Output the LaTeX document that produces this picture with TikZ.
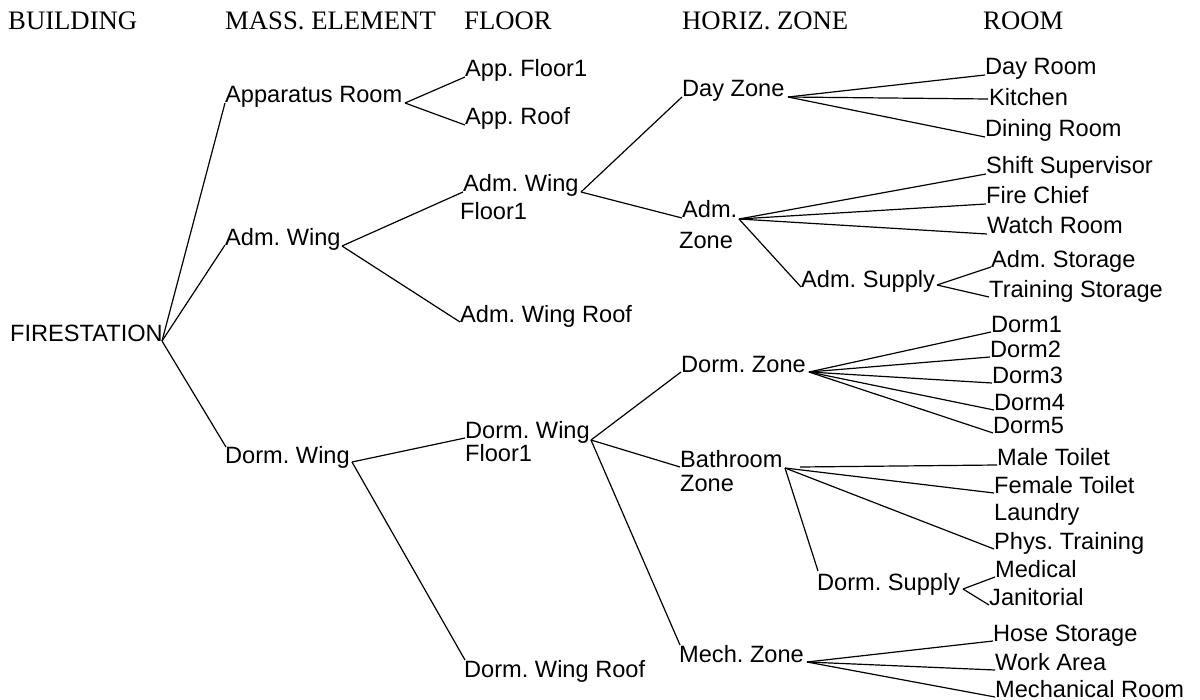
\documentclass[tikz,border=0pt]{standalone}
\usepackage{fontspec}
\setmainfont{Liberation Serif}
\newfontfamily\lblfamily{Liberation Sans}
\newcommand{\twoline}[3][0bp]{\begin{tabular}[t]{@{}l@{}}#2\\[#1]#3\end{tabular}}
\begin{document}
\begin{tikzpicture}[x=1bp,y=-1bp,
  hdr/.style={anchor=base west, inner sep=0pt, font=\frenchspacing\fontsize{26.7bp}{30bp}\selectfont},
  lbl/.style={anchor=base west, inner sep=0pt, font=\frenchspacing\lblfamily\fontsize{23.6bp}{28bp}\selectfont},
  con/.style={line width=1.2bp, draw=black},
]
\useasboundingbox (0,0) rectangle (1200,700);

% headers
\node[hdr] (h1) at (8,30) {BUILDING};
\node[hdr] (h2) at (225,30) {MASS. ELEMENT};
\node[hdr] (h3) at (464,30) {FLOOR};
\node[hdr] (h4) at (682,30) {HORIZ. ZONE};
\node[hdr] (h5) at (983,30) {ROOM};

% building / mass elements / floors
\node[lbl] (fs) at (10,341) {FIRESTATION};
\node[lbl] (app) at (225,103) {Apparatus Room};
\node[lbl] (admw) at (225,245) {Adm. Wing};
\node[lbl] (dormw) at (225,463) {Dorm. Wing};
\node[lbl] (appf) at (465,77) {App. Floor1};
\node[lbl] (appr) at (465,125) {App. Roof};
\node[lbl] (admf) at (463,192) {\twoline{Adm. Wing}{\hspace*{-3bp}Floor1}};
\node[lbl] (admr) at (460,322) {Adm. Wing Roof};
\node[lbl] (dormf) at (465,438) {\twoline[-4.5bp]{Dorm. Wing}{Floor1}};
\node[lbl] (dormr) at (464,677) {Dorm. Wing Roof};

% horizontal zones
\node[lbl] (dayz) at (682,97) {Day Zone};
\node[lbl] (admz) at (682,218) {\twoline[2bp]{Adm.}{\hspace*{-3bp}Zone}};
\node[lbl] (admsup) at (801,287) {Adm. Supply};
\node[lbl] (dormz) at (681,372) {Dorm. Zone};
\node[lbl] (bathz) at (680,467) {\twoline[-3.5bp]{Bathroom}{Zone}};
\node[lbl] (dormsup) at (817,590) {Dorm. Supply};
\node[lbl] (mechz) at (679,662) {Mech. Zone};

% rooms
\node[lbl] (dayroom) at (985,75) {Day Room};
\node[lbl] (kitchen) at (989,106) {Kitchen};
\node[lbl] (dining) at (985,137) {Dining Room};
\node[lbl] (shift) at (986,174) {Shift Supervisor};
\node[lbl] (chief) at (986,204) {Fire Chief};
\node[lbl] (watch) at (987,234) {Watch Room};
\node[lbl] (admstor) at (991,267) {Adm. Storage};
\node[lbl] (train) at (989,297) {Training Storage};
\node[lbl] (dorm1) at (991,332) {Dorm1};
\node[lbl] (dorm2) at (990,357) {Dorm2};
\node[lbl] (dorm3) at (992,383) {Dorm3};
\node[lbl] (dorm4) at (994,410) {Dorm4};
\node[lbl] (dorm5) at (993,433) {Dorm5};
\node[lbl] (male) at (997,465) {Male Toilet};
\node[lbl] (female) at (994,493) {Female Toilet};
\node[lbl] (laundry) at (994,520) {Laundry};
\node[lbl] (phys) at (994,549) {Phys. Training};
\node[lbl] (medical) at (995,577) {Medical};
\node[lbl] (jan) at (989,605) {Janitorial};
\node[lbl] (hose) at (993,641) {Hose Storage};
\node[lbl] (work) at (995,670) {Work Area};
\node[lbl] (mechroom) at (995,697) {Mechanical Room};

% junction points
\coordinate (fs-j) at (162,341);
\coordinate (app-j) at (405,103);
\coordinate (admw-j) at (342,246);
\coordinate (dormw-j) at (352,462);
\coordinate (admf-j) at (581,192);
\coordinate (dormf-j) at (591,440);
\coordinate (dayz-j) at (788,97);
\coordinate (admz-j) at (739,219);
\coordinate (admsup-j) at (937,285);
\coordinate (dormz-j) at (809,372);
\coordinate (bathz-j) at (785,468);
\coordinate (bathz-m) at (800,467);
\coordinate (dormsup-j) at (963,589);
\coordinate (mechz-j) at (807,662);

% connectors
\draw[con] (fs-j) -- (app.base west);
\draw[con] (fs-j) -- (admw.base west);
\draw[con] (fs-j) -- ([shift={(1,-16)}]dormw.base west);
\draw[con] (app-j) -- (appf.base west);
\draw[con] (app-j) -- (appr.base west);
\draw[con] (admw-j) -- (admf.base west);
\draw[con] (admw-j) -- (admr.base west);
\draw[con] (dormw-j) -- (dormf.base west);
\draw[con] (dormw-j) -- ([shift={(1,-17)}]dormr.base west);
\draw[con] (admf-j) -- (dayz.base west);
\draw[con] (admf-j) -- (admz.base west);
\draw[con] (dormf-j) -- (dormz.base west);
\draw[con] (dormf-j) -- (bathz.base west);
\draw[con] (dormf-j) -- ([shift={(1,-17)}]mechz.base west);
\draw[con] (dayz-j) -- (dayroom.base west);
\draw[con] (dayz-j) -- ([shift={(-1,-7)}]kitchen.base west);
\draw[con] (dayz-j) -- (dining.base west);
\draw[con] (admz-j) -- (shift.base west);
\draw[con] (admz-j) -- (chief.base west);
\draw[con] (admz-j) -- (watch.base west);
\draw[con] (admz-j) -- (admsup.base west);
\draw[con] (admsup-j) -- (admstor.base west);
\draw[con] (admsup-j) -- (train.base west);
\draw[con] (dormz-j) -- (dorm1.base west);
\draw[con] (dormz-j) -- (dorm2.base west);
\draw[con] (dormz-j) -- (dorm3.base west);
\draw[con] (dormz-j) -- (dorm4.base west);
\draw[con] (dormz-j) -- (dorm5.base west);
\draw[con] (bathz-m) -- (male.base west);
\draw[con] (bathz-j) -- (female.base west);
\draw[con] (bathz-j) -- (phys.base west);
\draw[con] (bathz-j) -- ([shift={(1,-19)}]dormsup.base west);
\draw[con] (dormsup-j) -- (medical.base west);
\draw[con] (dormsup-j) -- (jan.base west);
\draw[con] (mechz-j) -- (hose.base west);
\draw[con] (mechz-j) -- (work.base west);
\draw[con] (mechz-j) -- (mechroom.base west);
\end{tikzpicture}
\end{document}
